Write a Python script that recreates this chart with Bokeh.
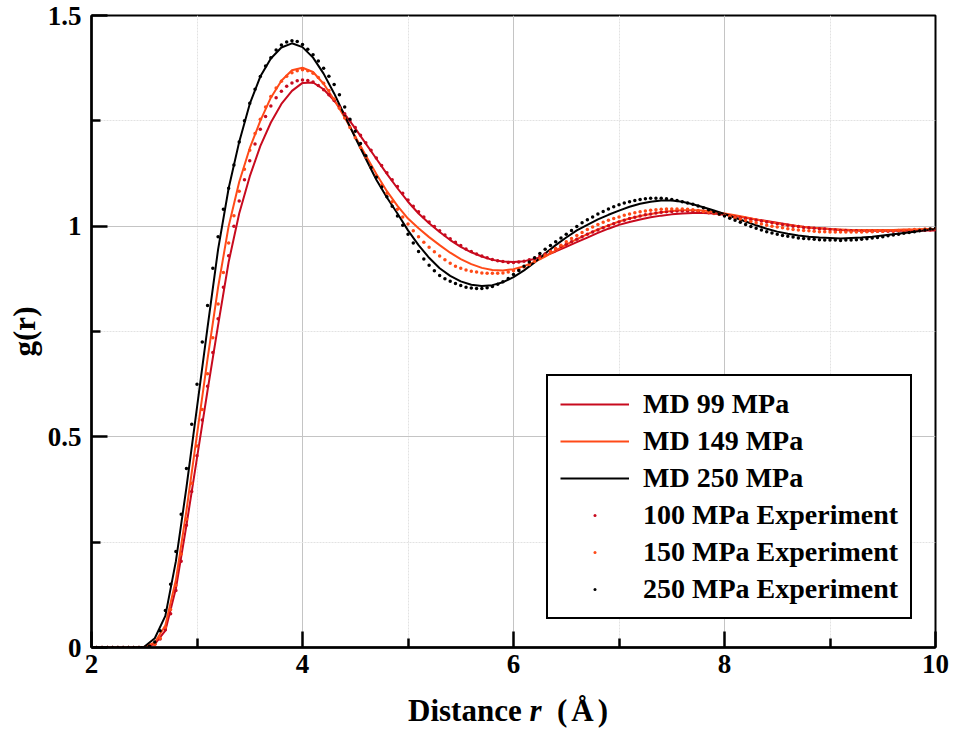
import numpy as np
from bokeh.plotting import figure
from bokeh.layouts import column
from bokeh.models import (Range1d, FixedTicker, NumeralTickFormatter, Legend, LegendItem, Div)
from bokeh.embed import file_html
from bokeh.resources import INLINE

# ---------------- data ----------------
# MD curves: r from 2.0 to 10.0 step 0.1
r_md = np.round(np.linspace(2.0, 10.0, 81), 3)

md_99 = [
    0, 0, 0, 0, 0, 0.001, 0.008, 0.04, 0.14, 0.29,
    0.45, 0.61, 0.765, 0.915, 1.03, 1.118, 1.19, 1.246, 1.29, 1.321,
    1.34, 1.341, 1.325, 1.298, 1.266, 1.232, 1.196, 1.16, 1.124, 1.09,
    1.058, 1.03, 1.007, 0.986, 0.967, 0.951, 0.938, 0.928, 0.92, 0.916,
    0.915, 0.917, 0.922, 0.93, 0.94, 0.951, 0.962, 0.973, 0.984, 0.994,
    1.003, 1.01, 1.016, 1.021, 1.025, 1.028, 1.03, 1.031, 1.031, 1.03,
    1.027, 1.024, 1.02, 1.016, 1.012, 1.008, 1.004, 1.0, 0.997, 0.995,
    0.993, 0.991, 0.99, 0.989, 0.989, 0.989, 0.989, 0.989, 0.989, 0.99,
    0.99,
]

md_149 = [
    0, 0, 0, 0, 0, 0.001, 0.012, 0.052, 0.16, 0.325,
    0.505, 0.685, 0.855, 1.0, 1.105, 1.185, 1.25, 1.305, 1.345, 1.37,
    1.376, 1.366, 1.338, 1.30, 1.258, 1.213, 1.168, 1.124, 1.083, 1.048,
    1.018, 0.995, 0.974, 0.955, 0.937, 0.922, 0.91, 0.901, 0.896, 0.895,
    0.898, 0.905, 0.915, 0.928, 0.942, 0.956, 0.969, 0.981, 0.992, 1.002,
    1.011, 1.018, 1.024, 1.029, 1.033, 1.036, 1.038, 1.038, 1.037, 1.034,
    1.03, 1.026, 1.021, 1.016, 1.011, 1.007, 1.003, 1.0, 0.997, 0.995,
    0.993, 0.992, 0.991, 0.991, 0.991, 0.991, 0.991, 0.992, 0.992, 0.993,
    0.993,
]

md_250 = [
    0, 0, 0, 0, 0, 0.002, 0.022, 0.075, 0.205, 0.38,
    0.57, 0.76, 0.945, 1.09, 1.2, 1.29, 1.355, 1.398, 1.424, 1.434,
    1.425, 1.40, 1.362, 1.315, 1.262, 1.21, 1.16, 1.11, 1.068, 1.03,
    0.99, 0.955, 0.925, 0.90, 0.882, 0.869, 0.861, 0.858, 0.86, 0.867,
    0.879, 0.895, 0.914, 0.935, 0.955, 0.973, 0.99, 1.003, 1.016, 1.027,
    1.037, 1.046, 1.053, 1.058, 1.061, 1.061, 1.058, 1.052, 1.045, 1.037,
    1.029, 1.02, 1.011, 1.002, 0.994, 0.987, 0.982, 0.978, 0.975, 0.973,
    0.972, 0.971, 0.972, 0.973, 0.975, 0.978, 0.981, 0.984, 0.987, 0.99,
    0.993,
]

# Experiments: r from 2.0 to 10.0 step 0.05
r_exp = np.round(np.linspace(2.0, 10.0, 161), 3)

exp_100 = [
    0, 0, 0, 0, 0, 0, 0, 0, 0, 0,
    0.0, 0.002, 0.008, 0.02, 0.042, 0.08, 0.135, 0.205, 0.29, 0.37,
    0.455, 0.54, 0.62, 0.70, 0.78, 0.855, 0.93, 1.0, 1.06, 1.11,
    1.155, 1.195, 1.23, 1.26, 1.285, 1.305, 1.32, 1.332, 1.34, 1.345,
    1.347, 1.346, 1.342, 1.334, 1.324, 1.312, 1.298, 1.283, 1.267, 1.25,
    1.234, 1.216, 1.198, 1.18, 1.162, 1.144, 1.127, 1.11, 1.094, 1.078,
    1.062, 1.047, 1.034, 1.022, 1.01, 0.999, 0.989, 0.979, 0.97, 0.962,
    0.954, 0.946, 0.94, 0.934, 0.929, 0.925, 0.921, 0.918, 0.916, 0.914,
    0.914, 0.915, 0.917, 0.92, 0.924, 0.929, 0.934, 0.94, 0.946, 0.952,
    0.957, 0.963, 0.969, 0.975, 0.981, 0.986, 0.991, 0.996, 1.001, 1.006,
    1.01, 1.014, 1.018, 1.021, 1.024, 1.027, 1.029, 1.031, 1.033, 1.034,
    1.035, 1.036, 1.036, 1.036, 1.036, 1.035, 1.034, 1.032, 1.03, 1.028,
    1.026, 1.024, 1.022, 1.02, 1.018, 1.016, 1.014, 1.012, 1.01, 1.008,
    1.006, 1.004, 1.002, 1.0, 0.999, 0.997, 0.996, 0.995, 0.994, 0.993,
    0.992, 0.991, 0.99, 0.99, 0.989, 0.989, 0.988, 0.988, 0.988, 0.988,
    0.988, 0.988, 0.988, 0.989, 0.989, 0.989, 0.99, 0.99, 0.991, 0.991,
    0.992,
]

exp_150 = [
    0, 0, 0, 0, 0, 0, 0, 0, 0, 0,
    0.0, 0.001, 0.008, 0.022, 0.048, 0.09, 0.148, 0.222, 0.305, 0.39,
    0.478, 0.565, 0.65, 0.735, 0.815, 0.89, 0.96, 1.025, 1.083, 1.135,
    1.18, 1.22, 1.254, 1.283, 1.308, 1.328, 1.344, 1.356, 1.364, 1.369,
    1.371, 1.369, 1.363, 1.353, 1.339, 1.322, 1.302, 1.28, 1.257, 1.234,
    1.21, 1.187, 1.164, 1.141, 1.119, 1.098, 1.078, 1.058, 1.04, 1.022,
    1.005, 0.989, 0.975, 0.962, 0.95, 0.939, 0.929, 0.92, 0.912, 0.905,
    0.9, 0.896, 0.893, 0.891, 0.889, 0.888, 0.888, 0.888, 0.889, 0.891,
    0.894, 0.898, 0.903, 0.909, 0.916, 0.923, 0.931, 0.939, 0.947, 0.955,
    0.963, 0.971, 0.978, 0.985, 0.992, 0.998, 1.004, 1.009, 1.014, 1.018,
    1.022, 1.026, 1.029, 1.032, 1.034, 1.036, 1.038, 1.039, 1.04, 1.041,
    1.041, 1.041, 1.041, 1.04, 1.039, 1.037, 1.035, 1.033, 1.031, 1.028,
    1.026, 1.023, 1.02, 1.017, 1.014, 1.011, 1.008, 1.005, 1.002, 1.0,
    0.998, 0.996, 0.994, 0.992, 0.991, 0.99, 0.989, 0.988, 0.987, 0.987,
    0.986, 0.986, 0.986, 0.986, 0.986, 0.986, 0.986, 0.987, 0.987, 0.988,
    0.988, 0.989, 0.989, 0.99, 0.99, 0.991, 0.992, 0.992, 0.993, 0.993,
    0.994,
]

exp_250 = [
    0, 0, 0, 0, 0, 0, 0, 0, 0, 0,
    0.0, 0.003, 0.013, 0.04, 0.088, 0.15, 0.228, 0.316, 0.425, 0.53,
    0.625, 0.725, 0.812, 0.90, 0.975, 1.04, 1.09, 1.145, 1.20, 1.25,
    1.292, 1.325, 1.355, 1.38, 1.40, 1.418, 1.43, 1.437, 1.44, 1.438,
    1.431, 1.42, 1.407, 1.392, 1.375, 1.356, 1.336, 1.312, 1.283, 1.254,
    1.225, 1.196, 1.167, 1.139, 1.116, 1.093, 1.07, 1.047, 1.024, 1.002,
    0.981, 0.96, 0.94, 0.922, 0.907, 0.894, 0.883, 0.875, 0.869, 0.864,
    0.859, 0.855, 0.853, 0.852, 0.852, 0.854, 0.857, 0.862, 0.868, 0.876,
    0.885, 0.895, 0.905, 0.915, 0.925, 0.935, 0.945, 0.954, 0.963, 0.972,
    0.981, 0.99, 0.999, 1.008, 1.015, 1.022, 1.029, 1.035, 1.041, 1.046,
    1.051, 1.055, 1.058, 1.061, 1.063, 1.065, 1.066, 1.066, 1.066, 1.065,
    1.063, 1.061, 1.058, 1.055, 1.052, 1.048, 1.044, 1.039, 1.034, 1.029,
    1.024, 1.019, 1.014, 1.009, 1.004, 0.999, 0.995, 0.991, 0.987, 0.984,
    0.981, 0.978, 0.976, 0.974, 0.972, 0.971, 0.97, 0.969, 0.968, 0.967,
    0.967, 0.967, 0.966, 0.967, 0.967, 0.968, 0.969, 0.97, 0.972, 0.973,
    0.975, 0.977, 0.979, 0.981, 0.983, 0.985, 0.987, 0.989, 0.991, 0.993,
    0.995,
]

x_ticks = [2, 4, 6, 8, 10]
x_minor = [3, 5, 7, 9]
y_ticks = [0, 0.5, 1, 1.5]
y_minor = [0.25, 0.75, 1.25]

md_labels = ["MD 99 MPa", "MD 149 MPa", "MD 250 MPa"]
exp_labels = ["100 MPa Experiment", "150 MPa Experiment", "250 MPa Experiment"]
colors = ["#C80A1E", "#FF4A18", "#000000"]

FONT = "Liberation Serif"

# ---------------- figure ----------------
p = figure(width=955, height=690, x_range=Range1d(2, 10), y_range=Range1d(0, 1.5),
           output_backend="svg", toolbar_location=None,
           min_border_left=91, min_border_right=20, min_border_top=15, min_border_bottom=43)
p.background_fill_color = "white"
p.border_fill_color = "white"
p.outline_line_color = "black"
p.outline_line_width = 2
p.outline_line_alpha = 1

for ax, ticks, minor in ((p.xaxis[0], x_ticks, x_minor), (p.yaxis[0], y_ticks, y_minor)):
    ax.ticker = FixedTicker(ticks=ticks, minor_ticks=minor)
    ax.axis_line_width = 2.5
    ax.axis_line_color = "black"
    ax.major_tick_in = 16
    ax.major_tick_out = 0
    ax.minor_tick_in = 9
    ax.minor_tick_out = 0
    ax.major_tick_line_width = 2.5
    ax.minor_tick_line_width = 2.5
    ax.major_tick_line_color = "black"
    ax.minor_tick_line_color = "black"
    ax.major_label_text_font = FONT
    ax.major_label_text_font_style = "bold"
    ax.major_label_text_font_size = "27px"
    ax.major_label_text_color = "black"
    ax.formatter = NumeralTickFormatter(format="0.[0]")

p.xaxis[0].major_label_standoff = 7
p.yaxis[0].major_label_standoff = 10
p.yaxis[0].axis_label = "g(r)"
p.yaxis[0].axis_label_text_font = FONT
p.yaxis[0].axis_label_text_font_style = "bold"
p.yaxis[0].axis_label_text_font_size = "31px"
p.yaxis[0].axis_label_text_color = "black"
p.yaxis[0].axis_label_standoff = 3

for g in (p.xgrid[0], p.ygrid[0]):
    g.grid_line_color = "#c4c4c4"
    g.grid_line_width = 1
    g.minor_grid_line_color = "#e2e2e2"
    g.minor_grid_line_width = 1
    g.minor_grid_line_dash = "2 1"
p.xgrid[0].ticker = FixedTicker(ticks=x_ticks, minor_ticks=x_minor)
p.ygrid[0].ticker = FixedTicker(ticks=y_ticks, minor_ticks=y_minor)

# ---------------- glyphs ----------------
md_series = [md_99, md_149, md_250]
exp_series = [exp_100, exp_150, exp_250]

line_r = []
for ys, c in zip(md_series, colors):
    line_r.append(p.line(r_md, ys, line_color=c, line_width=2))

dot_r = []
for ys, c in zip(exp_series, colors):
    dot_r.append(p.scatter(r_exp, ys, marker="dot", size=14, line_color=c, fill_color=c))

items = [LegendItem(label=l, renderers=[r]) for l, r in zip(md_labels, line_r)]
items += [LegendItem(label=l, renderers=[r]) for l, r in zip(exp_labels, dot_r)]
legend = Legend(items=items, location=(455, 28),
                label_text_font=FONT, label_text_font_style="bold",
                label_text_font_size="28px", label_text_color="black",
                glyph_width=69, glyph_height=30, label_height=30,
                label_standoff=14, spacing=5, padding=12, margin=0,
                border_line_color="black", border_line_width=2, border_line_alpha=1,
                background_fill_color="white", background_fill_alpha=1)
p.add_layout(legend)

# x-axis title (with italic r) below the figure
xtitle = Div(
    text=('<div style="font-family:\'Liberation Serif\',serif;font-weight:bold;'
          'font-size:31px;line-height:31px;white-space:nowrap;color:#000;'
          'padding-left:408px;padding-top:5px;margin:0;">'
          'Distance <i>r</i>&nbsp;&nbsp;<span style="letter-spacing:4px;">(&#197;)</span></div>'),
    width=955, height=39, margin=0)

layout = column(p, xtitle, spacing=0)

open("out.html", "w").write(file_html(layout, INLINE))
